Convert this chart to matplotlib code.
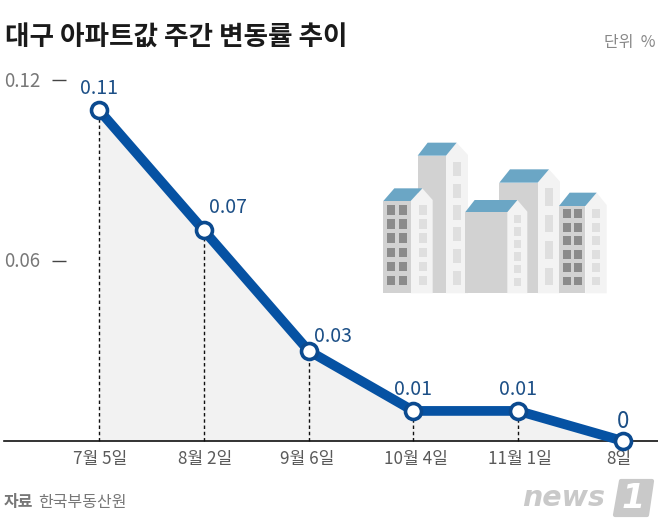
import matplotlib

matplotlib.use("Agg")
import matplotlib.pyplot as plt
from matplotlib.patches import Polygon, Rectangle

plt.rcParams["font.family"] = ["Noto Sans CJK KR", "DejaVu Sans"]

WIDTH, HEIGHT = 658, 529
BASE_Y = 441
Y_SCALE = 3008
X_LEFT = 99
X_STEP = 104.8

dates = ["7월 5일", "8월 2일", "9월 6일", "10월 4일", "11월 1일", "8일"]
values = [0.11, 0.07, 0.03, 0.01, 0.01, 0]
value_labels = ["0.11", "0.07", "0.03", "0.01", "0.01", "0"]
y_ticks = [0.12, 0.06]
y_tick_labels = ["0.12", "0.06"]

# label placement relative to each point, in points
label_offsets = [(0, 8), (4, 9), (4, 3), (0, 8), (0, 8), (0, 6)]
label_aligns = ["center", "left", "left", "center", "center", "center"]
label_sizes = [14, 14, 14, 14, 14, 16]
date_shifts = [1, 1, -1, 2, 1, -3]

BLUE = "#0652a3"
EDGE = "#0b4a8f"
LABEL_BLUE = "#1c4f86"
GRAY = "#5a5a5a"

FRONT = "#d2d2d2"
SIDE = "#f3f3f3"
ROOF = "#6ba6c5"
DARK_WIN = "#8b8b8b"
SIDE_WIN = "#dfdfdf"


def px_x(x):
    return (x - X_LEFT) / X_STEP


def z(points):
    # illustration was measured on a 3x crop starting at (370, 130)
    return [(370 + x / 3, 130 + y / 3) for x, y in points]


def draw_building(ax, left, mid, right, top, peak, eave, shift, bottom=490):
    ax.add_patch(Polygon(z([(mid, top), (mid + shift, peak), (right, eave), (right, bottom), (mid, bottom)]), fc=SIDE, ec="none"))
    ax.add_patch(Polygon(z([(left, top), (mid, top), (mid, bottom), (left, bottom)]), fc=FRONT, ec="none"))
    ax.add_patch(Polygon(z([(left, top), (left + shift - 2, peak), (mid + shift, peak), (mid, top)]), fc=ROOF, ec="none"))


def draw_windows(ax, xs, width, spans, color):
    for x in xs:
        for y0, y1 in spans:
            (px, py) = z([(x, y0)])[0]
            ax.add_patch(Rectangle((px, py), width / 3, (y1 - y0) / 3, fc=color, ec="none"))


def draw_city(ax):
    tall = [(95, 138), (161, 204), (226, 269), (292, 334), (357, 400), (422, 465)]
    left_rows = [(226, 254), (268, 296), (310, 338), (353, 381), (395, 423), (437, 465)]
    mid_rows = [(254, 280), (292, 318), (330, 355), (367, 393), (405, 430), (443, 467)]
    right_rows = [(238, 265), (278, 305), (319, 345), (360, 386), (400, 426), (440, 466)]
    back_rows = [(175, 228), (254, 307), (334, 386), (413, 465)]

    draw_building(ax, 143, 228, 294, 77, 38, 75, 32)
    draw_windows(ax, [249], 24, tall, SIDE_WIN)
    draw_building(ax, 40, 122, 188, 213, 175, 210, 35)
    draw_windows(ax, [52, 87], 24, left_rows, DARK_WIN)
    draw_windows(ax, [146], 24, left_rows, SIDE_WIN)
    draw_building(ax, 388, 503, 570, 158, 118, 155, 34)
    draw_windows(ax, [525], 24, back_rows, SIDE_WIN)
    draw_building(ax, 286, 412, 472, 246, 210, 245, 30)
    draw_windows(ax, [431], 22, mid_rows, SIDE_WIN)
    draw_building(ax, 567, 646, 710, 228, 188, 225, 34)
    draw_windows(ax, [579, 612], 24, right_rows, DARK_WIN)
    draw_windows(ax, [667], 24, right_rows, SIDE_WIN)


fig = plt.figure(figsize=(WIDTH / 100, HEIGHT / 100), dpi=100, facecolor="white")

ax = fig.add_axes([0, 0, 1, 1])
ax.set_xlim(px_x(0), px_x(WIDTH))
ax.set_ylim((BASE_Y - HEIGHT) / Y_SCALE, BASE_Y / Y_SCALE)
ax.axis("off")

xs = list(range(len(values)))

ax.fill_between(xs, values, 0, color="#f2f2f2", lw=0, zorder=1)
ax.axhline(0, xmin=4 / WIDTH, xmax=1, color="#111111", lw=1.2, zorder=2)
ax.vlines(xs[:-1], 0, values[:-1], color="#111111", lw=1, linestyles=(0, (2.5, 2)), zorder=2)
ax.plot(xs, values, color=BLUE, lw=7, solid_capstyle="round", solid_joinstyle="round", zorder=3)
ax.plot(xs, values, ls="none", marker="o", ms=11.5, mfc="white", mec=EDGE, mew=2.6, zorder=4, clip_on=False)

for x, val, text, pos, ha, size in zip(xs, values, value_labels, label_offsets, label_aligns, label_sizes):
    ax.annotate(text, (x, val), xytext=(pos[0], pos[1]), textcoords="offset points", ha=ha, va="bottom",
                fontsize=size, color=LABEL_BLUE, zorder=5)

for x, label, shift in zip(xs, dates, date_shifts):
    ax.annotate(label, (x, 0), xytext=(shift, -6.5), textcoords="offset points", ha="center", va="top",
                fontsize=12.3, color=GRAY)

for val, label in zip(y_ticks, y_tick_labels):
    ax.annotate(label, (px_x(4), val), xytext=(0, -1), textcoords="offset points", ha="left", va="center",
                fontsize=13.5, color="#777777")
    ax.hlines(val, px_x(52), px_x(66), color="#444444", lw=1)

# overlay in pixel coordinates for the furniture around the chart
overlay = fig.add_axes([0, 0, 1, 1])
overlay.set_xlim(0, WIDTH)
overlay.set_ylim(HEIGHT, 0)
overlay.axis("off")
overlay.patch.set_alpha(0)

draw_city(overlay)

overlay.text(5, 38, "대구 아파트값 주간 변동률 추이", fontsize=19.2, fontweight="bold",
             color="#1a1a1a", ha="left", va="center")
overlay.text(655, 42, "단위  %", fontsize=11.5, color="#888888", ha="right", va="center")
overlay.text(4, 502, "자료", fontsize=11.5, fontweight="bold", color="#777777", ha="left", va="center")
overlay.text(38, 502, "한국부동산원", fontsize=11.5, color="#777777", ha="left", va="center")

# news1 watermark
overlay.text(522, 498, "news", fontsize=20.5, fontweight="bold", style="italic", family="DejaVu Sans",
             color="#c9c9c9", ha="left", va="center")
overlay.add_patch(Polygon([(621, 481), (652, 481), (647, 515), (615, 515)], fc="#c9c9c9", ec="#c9c9c9",
                          lw=3, joinstyle="round"))
overlay.text(633, 498, "1", fontsize=24, fontweight="bold", style="italic", family="DejaVu Sans",
             color="white", ha="center", va="center")

fig.savefig("out.png", dpi=100)
plt.close(fig)
